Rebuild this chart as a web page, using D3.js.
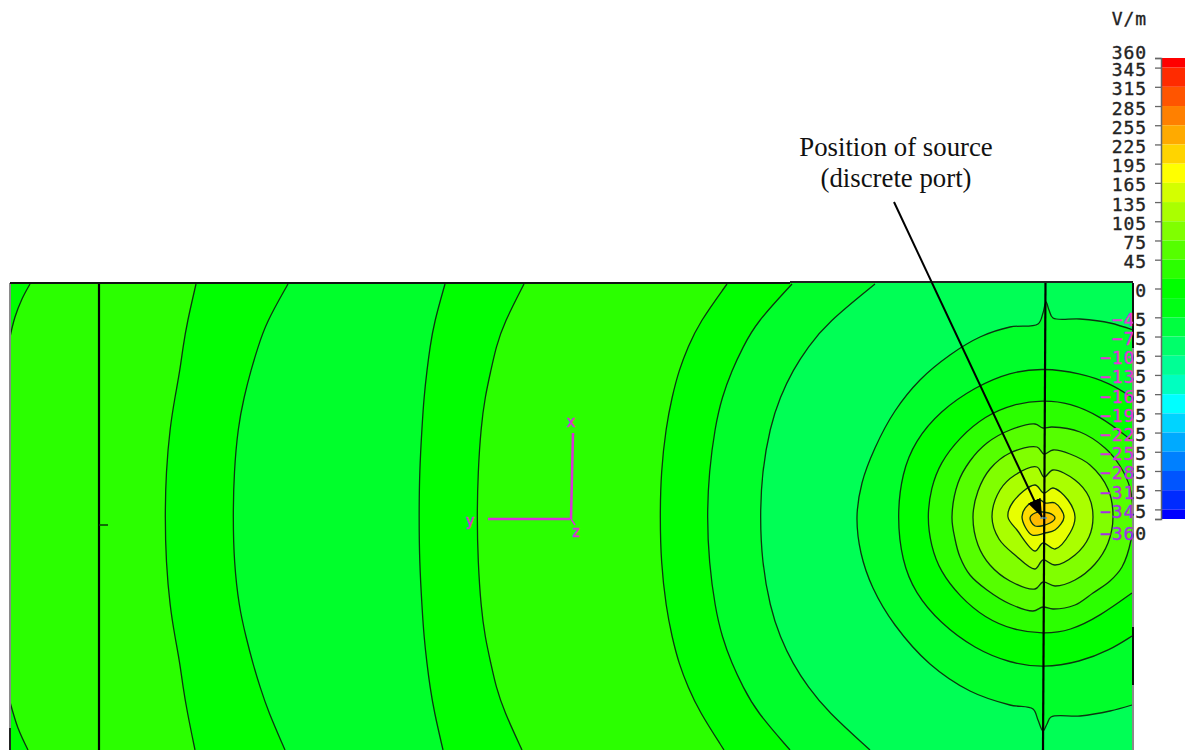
<!DOCTYPE html>
<html><head><meta charset="utf-8">
<style>html,body{margin:0;padding:0;background:#fff;overflow:hidden}svg{display:block}</style>
<script src="https://d3js.org/d3.v7.min.js"></script></head>
<body><svg id="c" width="1185" height="750"></svg>
<script>
// Field-plane coordinates of the contour lines
const contourCorner1=[[20,1],[12,16],[5,34],[0,54]];
const contourCorner2=[[0,419],[8,445],[18,467]];
const arcRows=[1,40,64,87,114,144,189,234,279,324,354,381,404,428,467];
const arc1=[186,177,173,170,165,160,156,155,156,160,165,170,173,177,185];
const arc2=[278,256,248,241,234,228,224,223,224,229,236,243,250,258,275];
const arcA=[435,424,420,417,414,412,409.5,409,409.5,412,414,417,420,424,433];
const arcB=[514,494,486,481,475,471,468,467,468,471,475,481,486,494,512];
const arcC=[717,689,678,669,662,656,651,650,651,656,662,669,678,689,714];
const arcD=[782,746,733,722,712,705,699,697,699,705,712,722,733,746,780];
const arcE=[865,817,798,783,770,760,752,750,752,760,770,783,798,817,860];
const contourF=[[1123,47],[1100,40],[1070,36],[1043,35],[1039,27],[1036,19],[1033,30],[1028,41],[1000,44],[970,54],[940,72],[910,97],[885,128],[865,165],[852,200],[847,234],[851,270],[863,305],[885,342],[920,381],[960,408],[1000,422],[1023,426],[1028,437],[1033,448],[1037,441],[1041,434],[1070,433],[1100,428],[1122,422]];
const contourG=[[1123,115],[1100,100],[1070,90],[1033,85],[1000,89],[965,104],[930,128],[905,158],[892,190],[887,234],[892,278],[905,310],[930,340],[965,366],[1000,380],[1033,385],[1070,379],[1100,367],[1122,353]];
const contourH=[[1120,156],[1090,133],[1060,120],[1033,117],[1003,121],[975,133],[950,154],[930,180],[921,205],[917,234],[921,263],[930,288],[950,314],[975,335],[1003,347],[1033,351],[1060,348],[1090,333],[1122,310]];
const contourI=[[1123,234],[1120,205],[1110,183],[1095,165],[1070,149],[1042,144],[1033,145],[1025,141],[1000,147],[977,160],[960,178],[948,200],[942,234],[945,256],[950,274],[960,292],[977,307],[1000,321],[1023,328],[1033,324],[1043,326],[1065,322],[1083,310],[1100,298],[1112,284],[1121,257]];
const contourJ=[[1103,234],[1098,206],[1080,182],[1060,171],[1043,167],[1034,171],[1027,164],[1000,170],[980,186],[968,208],[963,234],[968,262],[980,282],[1000,298],[1025,306],[1033,299],[1045,303],[1065,297],[1085,281],[1098,260]];
const contourK=[[1083,234],[1079,214],[1065,197],[1043,187],[1034,194],[1027,184],[1005,192],[990,207],[982,234],[989,256],[1005,272],[1025,286],[1033,277],[1045,282],[1065,272],[1079,254]];
const contourL=[[1065,234],[1058,217],[1043,205],[1034,210],[1025,202],[1003,219],[998,234],[1007,247],[1025,268],[1033,260],[1045,266],[1060,250]];
const contourM=[[1054,234],[1045,220],[1035,220],[1030,217],[1018,222],[1012,234],[1022,252],[1035,250],[1045,247]];
const contourN=[[1045,235],[1043,232],[1033,229],[1025,230],[1020,235],[1025,243],[1040,240]];

const arcs=[arcE,arcD,arcC,arcB,arcA,arc2,arc1];
const leftColors=["#00ff2b","#00ff00","#2bff00","#00ff00","#00ff2b","#00ff00","#2bff00"];
const rightContours=[contourF,contourG,contourH];
const rightColors=["#00ff2b","#00ff00","#2bff00"];
const closedContours=[contourI,contourJ,contourK,contourL,contourM,contourN];
const closedColors=["#55ff00","#80ff00","#aaff00","#e8ff00","#ffdc00","#ffbb00"];
const outerColor="#00ff55";

const barTicks=[360,345,315,285,255,225,195,165,135,105,75,45,0,-45,-75,-105,-135,-165,-195,-225,-255,-285,-315,-345,-360];
const bandEdges=[360,345,315,285,255,225,195,165,135,105,75,45,15,-15,-45,-75,-105,-135,-165,-195,-225,-255,-285,-315,-345,-360];
const bandColors=["#ff0000","#ff2b00","#ff5500","#ff8000","#ffaa00","#ffd400","#ffff00","#d4ff00","#aaff00","#80ff00","#55ff00","#2bff00","#00ff00","#00ff15","#00ff40","#00ff6a","#00ff95","#00ffc0","#00ffff","#00d4ff","#00aaff","#0080ff","#0055ff","#002bff","#0000ff"];

const x=d3.scaleLinear().domain([0,1123]).range([10,1133]);
const y=d3.scaleLinear().domain([0,467]).range([283,750]);
const v=d3.scaleLinear().domain([360,-360]).range([58,519]);
const svg=d3.select("#c");
const defs=svg.append("defs");
defs.append("clipPath").attr("id","plot").append("rect").attr("x",x(0)).attr("y",y(0)).attr("width",x(1123)-x(0)).attr("height",y(467)-y(0));

const open=d3.line().x(d=>x(d[0])).y(d=>y(d[1])).curve(d3.curveCatmullRom.alpha(0.5));
const smooth=d3.line().x(d=>x(d[0])).y(d=>y(d[1])).curve(d3.curveBasis);
const closed=d3.line().x(d=>x(d[0])).y(d=>y(d[1])).curve(d3.curveCatmullRomClosed.alpha(0.5));
const lineColor="#0b3510", lineW=1.3;
const arcPts=a=>a.map((vx,i)=>[vx,arcRows[i]]);
const lineFor=c=>c===contourF?open:smooth;

const plot=svg.append("g").attr("clip-path","url(#plot)");
plot.append("rect").attr("x",x(0)).attr("y",y(0)).attr("width",x(1123)-x(0)).attr("height",y(467)-y(0)).attr("fill",outerColor);

arcs.forEach((a,i)=>{
  const c=arcPts(a);
  plot.append("path").attr("fill",leftColors[i])
    .attr("d",smooth(c)+`L${x(a[a.length-1])},${y(472)}L${x(-5)},${y(472)}L${x(-5)},${y(-5)}L${x(a[0])},${y(-5)}Z`);
});
plot.append("path").attr("fill","#00ff00").attr("d",open(contourCorner1)+`L${x(-5)},${y(54)}L${x(-5)},${y(-3)}L${x(20)},${y(-3)}Z`);
plot.append("path").attr("fill","#00ff00").attr("d",open(contourCorner2)+`L${x(18)},${y(470)}L${x(-5)},${y(470)}L${x(-5)},${y(419)}Z`);
rightContours.forEach((c,i)=>{
  plot.append("path").attr("fill",rightColors[i])
    .attr("d",lineFor(c)(c)+`L${x(1128)},${y(c[c.length-1][1])}L${x(1128)},${y(c[0][1])}Z`);
});
closedContours.forEach((c,i)=>{
  plot.append("path").attr("fill",closedColors[i]).attr("d",closed(c));
});
[...arcs.map(arcPts),...rightContours].forEach(c=>{
  plot.append("path").attr("fill","none").attr("stroke",lineColor).attr("stroke-width",lineW).attr("d",lineFor(c)(c));
});
[contourCorner1,contourCorner2].forEach(c=>{
  plot.append("path").attr("fill","none").attr("stroke",lineColor).attr("stroke-width",lineW).attr("d",open(c));
});
closedContours.forEach(c=>{
  plot.append("path").attr("fill","none").attr("stroke",lineColor).attr("stroke-width",lineW).attr("d",closed(c));
});

const seg=(x1,y1,x2,y2,col,w)=>svg.append("line").attr("x1",x(x1)).attr("y1",y(y1)).attr("x2",x(x2)).attr("y2",y(y2)).attr("stroke",col).attr("stroke-width",w);
seg(89,0,89,467,"#000",2.2);
seg(89,242,98,242,"#0a3a0a",1.5);
seg(1035.5,0,1033,467,"#000",2.2);
seg(1030,235,1037,235,"#3a90e0",1.2);
seg(0,0,0,467,"#8a8a8a",2);
seg(0,445,0,467,"#000",1.5);
seg(1123,0,1123,467,"#8a8a8a",2);
seg(1123,0,1123,65,"#111",2);
seg(1123,344,1123,402,"#111",2);
seg(0,0,780,0,"#111",2);
seg(780,-1,1123,-1,"#222",2);

const triad="#d92fd9";
seg(478,236,560,236,triad,2.5);
seg(563,150,561,236,triad,2.5);
seg(561,236,565,242,triad,1.5);
const tri=svg.append("g").attr("fill",triad).attr("stroke",triad).attr("stroke-width",0.5).attr("font-family","'DejaVu Sans Mono'").attr("font-size",15).attr("text-anchor","middle");
tri.append("text").attr("x",x(561)).attr("y",y(144)).text("x");
tri.append("text").attr("x",x(460)).attr("y",y(243)).text("y");
tri.append("text").attr("x",x(566)).attr("y",y(254)).text("z");

const bar=svg.append("g");
bandColors.forEach((c,i)=>{
  bar.append("rect").attr("x",1162).attr("width",23).attr("y",v(bandEdges[i])).attr("height",v(bandEdges[i+1])-v(bandEdges[i])).attr("fill",c);
});
const labelShift=d=>d===360?-6:d===-360?14:1.5;
const inkOnPlot=d=>d>=0?"#222":d3.interpolateRgb("#e633d9","#a32ee6")(d3.scaleLinear().domain([-225,-345]).clamp(true)(d));
barTicks.forEach((d,i)=>{
  const g=defs.append("linearGradient").attr("id","lab"+i).attr("gradientUnits","userSpaceOnUse")
    .attr("x1",x(1123)-1161-1).attr("x2",x(1123)-1161+1).attr("y1",0).attr("y2",0);
  g.append("stop").attr("offset",0.5).attr("stop-color",inkOnPlot(d));
  g.append("stop").attr("offset",0.5).attr("stop-color","#222");
});
const axis=svg.append("g").attr("transform","translate(1161,0)")
  .call(d3.axisLeft(v).tickValues(barTicks).tickFormat(d=>String(d).replace("-","\u2212")).tickSize(6).tickPadding(8));
axis.select(".domain").attr("stroke","#666").attr("stroke-width",1.5);
axis.selectAll(".tick line").attr("stroke","#666").attr("stroke-width",1.3);
axis.selectAll(".tick text")
  .attr("font-family","'DejaVu Sans Mono'").attr("font-size",18).attr("letter-spacing",0.9)
  .attr("fill",(d,i)=>`url(#lab${i})`).attr("stroke",(d,i)=>`url(#lab${i})`).attr("stroke-width",0.35)
  .attr("dy","0.36em")
  .attr("transform",d=>`translate(0,${labelShift(d)})`);
svg.append("text").attr("x",1147).attr("y",25).attr("text-anchor","end").attr("font-family","'DejaVu Sans Mono'").attr("font-size",18).attr("letter-spacing",0.9).attr("fill","#222").attr("stroke","#222").attr("stroke-width",0.35).text("V/m");

defs.append("marker").attr("id","head").attr("viewBox","0 0 10 10").attr("refX",10).attr("refY",5).attr("markerWidth",9).attr("markerHeight",9).attr("orient","auto")
  .append("path").attr("d","M0,1.2L10,5L0,8.8Z").attr("fill","#000");
svg.append("line").attr("x1",x(884)).attr("y1",y(-81)).attr("x2",x(1032)).attr("y2",y(234)).attr("stroke","#000").attr("stroke-width",2).attr("marker-end","url(#head)");
const note=svg.append("g").attr("font-family","'Liberation Serif'").attr("font-size",26.8).attr("fill","#111").attr("text-anchor","middle");
note.append("text").attr("x",896).attr("y",156).text("Position of source");
note.append("text").attr("x",896).attr("y",187).text("(discrete port)");
</script></body></html>
